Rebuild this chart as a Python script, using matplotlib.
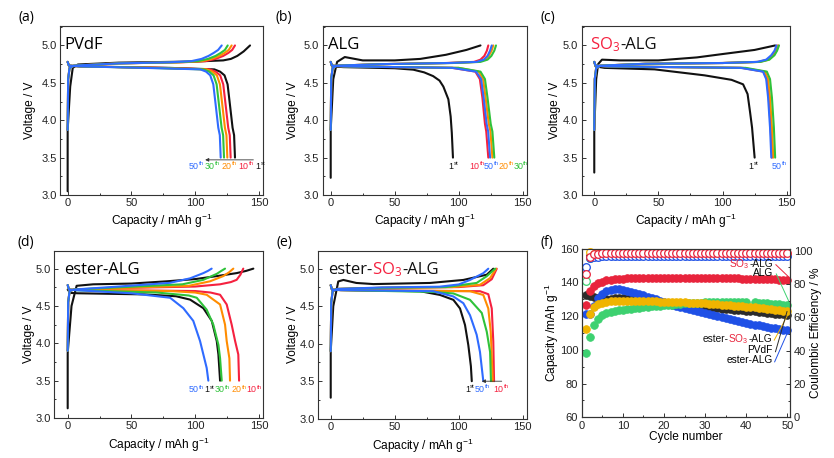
import matplotlib
matplotlib.use('Agg')
import matplotlib.pyplot as plt
from matplotlib import transforms
from matplotlib.ticker import MultipleLocator
import numpy as np

plt.rcParams['font.family'] = 'Liberation Sans'
plt.rcParams['mathtext.default'] = 'regular'

# ---------------- data (capacity in mAh/g, voltage in V) ----------------
cycle_names = ['1st', '10th', '20th', '30th', '50th']

# (a) PVdF
a_chg_q = [[0, 0, 2, 4, 8, 40, 100, 122, 128, 133, 138, 143],
           [0, 0.4, 1.5, 5, 40, 90, 108, 116, 122, 126, 129, 131.2],
           [0, 0.4, 1.5, 5, 40, 88, 105, 113, 119, 123, 126.3, 128.6],
           [0, 0.4, 1.5, 5, 40, 85, 102, 110, 116, 120, 123.3, 125.5],
           [0, 0.4, 1.5, 5, 40, 80, 97, 105, 110.5, 114.5, 118, 120.8]]
a_chg_v1 = [3.05, 3.87, 4.45, 4.70, 4.745, 4.77, 4.785, 4.80, 4.82, 4.86, 4.92, 5.0]
a_chg_vn = [3.87, 4.55, 4.70, 4.73, 4.76, 4.775, 4.79, 4.82, 4.86, 4.90, 4.94, 5.0]
a_dis_q = [[0, 1, 10, 80, 115, 119.5, 123, 125.4, 127.5, 129.3, 130.5, 131.2],
           [0, 1, 10, 75, 111.5, 116, 119.6, 122, 124.1, 125.9, 127.1, 127.8],
           [0, 1, 10, 70, 109, 113.5, 117, 119.4, 121.5, 123.3, 124.5, 125.2],
           [0, 1, 10, 65, 106.5, 111, 114.4, 116.8, 118.9, 120.7, 121.9, 122.6],
           [0, 1, 10, 60, 104, 108.5, 111.8, 114.2, 116.3, 118.1, 119.3, 120]]
a_dis_v = [4.78, 4.73, 4.72, 4.70, 4.68, 4.65, 4.60, 4.48, 4.17, 3.90, 3.80, 3.50]

# (b) ALG
b_chg_q = [[0, 0, 2, 5, 11, 25, 50, 70, 90, 106, 117],
           [0, 0.4, 1.5, 5, 40, 90, 112, 117, 120, 122, 123.1],
           [0, 0.4, 1.5, 5, 40, 93, 115, 120.5, 123.5, 125.7, 127],
           [0, 0.4, 1.5, 5, 40, 95, 117, 122.5, 125.5, 127.8, 129.1],
           [0, 0.4, 1.5, 5, 40, 92, 114, 119.5, 122.5, 124.5, 125.8]]
b_chg_v1 = [3.23, 3.87, 4.55, 4.78, 4.845, 4.80, 4.80, 4.82, 4.875, 4.94, 5.0]
b_chg_vn = [3.87, 4.55, 4.70, 4.73, 4.75, 4.765, 4.78, 4.81, 4.86, 4.93, 5.0]
b_dis1_q = [0, 1, 10, 50, 64.5, 73, 80, 85, 88, 91.9, 93.7, 94.6, 95.5]
b_dis1_v = [4.78, 4.72, 4.71, 4.695, 4.676, 4.64, 4.59, 4.53, 4.45, 4.28, 4.05, 3.83, 3.50]
b_dis_q = [[0, 1, 10, 95, 113, 116.5, 118.5, 120.5, 121.5, 123.1],
           [0, 1, 10, 100, 115.5, 119, 121, 123.5, 124.8, 126.3],
           [0, 1, 10, 100, 117, 120.5, 122.5, 125, 126.3, 127.8],
           [0, 1, 10, 95, 113.5, 117.5, 119.5, 121.8, 123, 124.5]]
b_dis_v = [4.78, 4.73, 4.72, 4.70, 4.65, 4.55, 4.30, 3.95, 3.85, 3.50]

# (c) SO3-ALG
c_chg_q = [[0, 0, 1.5, 3, 6, 20, 50, 80, 100, 125, 141],
           [0, 0.4, 1.5, 5, 40, 100, 128, 135, 139, 141, 142.5],
           [0, 0.4, 1.5, 5, 40, 100, 129, 136, 140, 142, 143.5],
           [0, 0.4, 1.5, 5, 40, 100, 129.5, 136.5, 140.5, 142.5, 144],
           [0, 0.4, 1.5, 5, 40, 100, 127, 134, 138, 140.5, 142]]
c_chg_v1 = [3.30, 3.87, 4.55, 4.75, 4.81, 4.80, 4.80, 4.84, 4.885, 4.94, 5.0]
c_chg_vn = [3.87, 4.55, 4.70, 4.73, 4.755, 4.765, 4.78, 4.81, 4.87, 4.93, 5.0]
c_dis1_q = [0, 1, 8, 47, 86, 107, 116, 119.5, 121.5, 123, 125]
c_dis1_v = [4.78, 4.72, 4.70, 4.68, 4.60, 4.54, 4.48, 4.35, 4.10, 3.90, 3.50]
c_dis_q = [[0, 1, 10, 115, 132, 134.5, 136, 137.5, 138.5],
           [0, 1, 10, 116, 133, 135.5, 137, 138.5, 139.5],
           [0, 1, 10, 118, 134.5, 137, 138.5, 140, 141],
           [0, 1, 10, 114, 131.5, 134, 135.5, 137, 138]]
c_dis_v = [4.78, 4.73, 4.72, 4.70, 4.65, 4.55, 4.30, 3.90, 3.50]

# (d) ester-ALG
d_chg_q = [[0, 0, 3, 7, 20, 50, 77.6, 100, 117, 132.5, 140, 145.6],
           [0, 0.4, 1.5, 5, 40, 100, 119.5, 128, 132.5, 135.5, 137.7],
           [0, 0.4, 1.5, 5, 40, 95, 111.6, 122, 126.5, 129.9],
           [0, 0.4, 1.5, 5, 40, 90, 106.4, 116.9, 120.5, 123.4],
           [0, 0.4, 1.5, 5, 40, 80.3, 96, 106.4, 110, 112.9]]
d_chg_v = [[3.13, 3.87, 4.5, 4.77, 4.79, 4.80, 4.83, 4.86, 4.90, 4.94, 4.97, 5.0],
           [3.9, 4.55, 4.70, 4.72, 4.74, 4.76, 4.79, 4.82, 4.85, 4.92, 5.0],
           [3.9, 4.55, 4.70, 4.72, 4.74, 4.77, 4.83, 4.90, 4.95, 5.0],
           [3.9, 4.55, 4.70, 4.72, 4.75, 4.79, 4.85, 4.93, 4.97, 5.0],
           [3.9, 4.55, 4.70, 4.72, 4.76, 4.81, 4.87, 4.94, 4.97, 5.0]]
d_dis_q = [[0, 2, 8, 60, 85, 96, 106.4, 113, 116.9, 118.2, 119.5],
           [0, 1, 8, 100, 112, 119.5, 124.7, 128.6, 131.3, 133.8, 134.4],
           [0, 1, 8, 80, 100, 109, 119.5, 123.4, 124.7, 126.8, 127.3],
           [0, 1, 8, 70, 95, 101.2, 109, 114.2, 118.2, 119.5, 120.8],
           [0, 1, 8, 50, 80.3, 90.7, 98.5, 103.8, 106.4, 109, 110.3]]
d_dis_v = [[4.72, 4.675, 4.67, 4.655, 4.63, 4.585, 4.47, 4.30, 4.03, 3.85, 3.50],
           [4.78, 4.72, 4.715, 4.70, 4.68, 4.65, 4.52, 4.25, 4.03, 3.85, 3.50],
           [4.78, 4.72, 4.715, 4.70, 4.68, 4.65, 4.52, 4.25, 4.03, 3.80, 3.50],
           [4.78, 4.72, 4.71, 4.68, 4.64, 4.61, 4.45, 4.25, 3.98, 3.80, 3.50],
           [4.78, 4.72, 4.71, 4.67, 4.61, 4.47, 4.30, 4.03, 3.85, 3.67, 3.50]]

# (e) ester-SO3-ALG
e_chg_q = [[0, 0, 2, 5.9, 9.9, 20, 33.3, 77.6, 103.6, 121.9, 127],
           [0, 0.4, 1.5, 5, 40, 100, 119.2, 125.8, 129.7],
           [0, 0.4, 1.5, 5, 40, 95, 116.6, 124.5, 129.1],
           [0, 0.4, 1.5, 5, 40, 90, 114, 121.9, 128.4],
           [0, 0.4, 1.5, 5, 40, 85, 100, 108.8, 119.2, 123.1]]
e_chg_v = [[3.28, 3.9, 4.5, 4.83, 4.85, 4.81, 4.795, 4.81, 4.85, 4.92, 5.0],
           [3.9, 4.55, 4.70, 4.73, 4.745, 4.755, 4.78, 4.86, 5.0],
           [3.9, 4.55, 4.70, 4.73, 4.745, 4.755, 4.785, 4.875, 5.0],
           [3.9, 4.55, 4.70, 4.73, 4.745, 4.755, 4.81, 4.90, 5.0],
           [3.9, 4.55, 4.70, 4.73, 4.75, 4.76, 4.79, 4.85, 4.94, 5.0]]
e_dis_q = [[0, 1, 8, 69.8, 85.4, 95.8, 101, 104.9, 107.5, 109.5, 110.2],
           [0, 1, 8, 116.6, 123.1, 125.8, 127, 127.6],
           [0, 1, 8, 108.8, 119.2, 123.1, 125, 126.6],
           [0, 1, 8, 80, 95.8, 108.8, 118, 121.9, 124.5, 125.2],
           [0, 1, 8, 80.2, 95.8, 103.6, 108.8, 114, 116.6, 119.2]]
e_dis_v = [[4.78, 4.72, 4.715, 4.70, 4.65, 4.585, 4.47, 4.25, 3.98, 3.70, 3.50],
           [4.78, 4.72, 4.715, 4.70, 4.66, 4.47, 4.03, 3.50],
           [4.78, 4.72, 4.715, 4.70, 4.65, 4.47, 4.16, 3.50],
           [4.78, 4.72, 4.715, 4.69, 4.67, 4.585, 4.41, 4.16, 3.89, 3.50],
           [4.78, 4.72, 4.715, 4.70, 4.63, 4.54, 4.38, 4.12, 3.89, 3.50]]

# (f) cycling: discharge capacity (mAh/g) and coulombic efficiency (%)
cycle_no = list(range(1, 51))
nan = np.nan
cap_so3 = [126.5, 135.0, 138.0, 139.6, 140.5, 141.2, 141.6, 142.0, 142.2, 142.3,
           142.4, 142.5, 142.5, 142.6, 142.6, 142.6, 142.6, 142.7, 142.7, 142.7,
           142.7, 142.7, 142.7, 142.7, 142.7, 142.7, 142.6, 142.6, 142.6, 142.6,
           142.6, 142.6, 142.5, 142.5, 142.5, 142.4, 142.4, 142.4, 142.3, 142.3,
           142.2, 142.2, 142.1, 142.0, 142.0, 141.9, 141.8, 141.7, 141.6, 141.5]
cap_alg = [98.0, 107.8, 114.8, 118.3, 120.5, 121.8, 122.6, 123.2, 123.6, 123.9,
           124.2, 124.5, 124.8, 125.1, 125.4, 125.7, 125.9, 126.1, 126.3, 126.5,
           126.7, 126.9, 127.1, 127.3, 127.5, 127.7, 127.8, 127.9, 128.0, 128.1,
           128.2, 128.3, 128.3, 128.4, 128.4, 128.5, 128.5, 128.5, 128.5, 128.4,
           nan, 128.2, 128.0, 127.8, 127.6, 127.4, 127.2, 127.0, 126.8, 126.6]
cap_ester_so3 = [112.5, 121.5, 125.5, 127.0, 128.0, 128.6, 129.0, 129.2, 129.2, 129.1,
                 129.0, 129.0, 128.9, 128.9, 128.8, 128.8, 128.7, 128.7, 128.6, 128.6,
                 128.5, 128.4, 128.3, 128.2, 128.1, 128.0, 127.9, 127.8, 127.7, 127.5,
                 127.4, 127.2, 127.0, 126.8, 126.6, 126.4, 126.2, 126.0, 125.8, 125.6,
                 125.4, 125.2, 124.9, 124.6, 124.3, 124.0, 123.7, 123.4, 123.1, 122.8]
cap_pvdf = [132.6, 132.1, 131.4, 130.6, 130.0, 129.9, 130.4, 130.7, 130.8, 130.7,
            130.5, 130.2, 129.9, 129.5, 129.1, 128.8, 128.5, 128.2, 127.9, 127.6,
            127.3, 127.0, 126.8, 126.5, 126.3, 126.1, 125.9, 125.7, 125.5, 125.3,
            125.1, 124.9, 124.7, 124.5, 124.3, 124.1, 123.9, 123.7, 123.5, 123.3,
            123.0, 122.8, 122.5, 122.3, 122.0, 121.8, 121.5, 121.2, 121.0, 120.7]
cap_ester = [121.3, 121.5, 126.0, 131.0, 133.4, 134.8, 135.6, 136.0, 136.0, 135.7,
             135.2, 134.6, 133.9, 133.1, 132.3, 131.5, 130.7, 129.9, 129.1, 128.3,
             127.6, 126.9, 126.2, 125.6, 125.0, 124.4, 123.8, 123.2, 122.6, 122.0,
             121.4, 120.8, 120.2, 119.6, 119.0, 118.4, 117.8, 117.2, 116.6, 116.0,
             115.5, 115.0, 114.5, 114.0, 113.6, 113.2, 112.8, 112.4, 112.0, 111.6]
ce_so3 = [86.0, 96.4, 97.8, 98.2, 98.4, 98.5, 98.5, 98.6, 98.6, 98.6,
          98.6, 98.6, 98.6, 98.6, 98.6, 98.6, 98.6, 98.6, 98.6, 98.6,
          98.6, 98.6, 98.6, 98.6, 98.6, 98.6, 98.6, 98.6, 98.6, 98.6,
          98.6, 98.6, 98.6, 98.6, 98.6, 98.6, 98.6, 98.6, 98.6, 98.6,
          98.6, 98.6, 98.6, 98.6, 98.6, 98.6, 98.6, 98.6, 98.6, 98.6]
ce_alg = [82.0, 95.5, 96.8, 97.1, 97.2, 97.2, 97.3, 97.3, 97.3, 97.3,
          97.3, 97.3, 97.3, 97.3, 97.3, 97.3, 97.3, 97.3, 97.3, 97.3,
          97.3, 97.3, 97.3, 97.3, 97.3, 97.3, 97.3, 97.3, 97.3, 97.3,
          97.3, 97.3, 97.3, 97.3, 97.3, 97.3, 97.3, 97.3, 97.3, 97.3,
          nan, 97.3, 97.3, 97.3, 97.3, 97.3, 97.3, 97.3, 97.3, 97.3]
ce_ester_so3 = [nan, 99.4, 98.2, 97.9, 97.8, 97.8, 97.8, 97.8, 97.8, 97.8,
                97.8, 97.8, 97.8, 97.8, 97.8, 97.8, 97.8, 97.8, 97.8, 97.8,
                97.8, 97.8, 97.8, 97.8, 97.8, 97.8, 97.8, 97.8, 97.8, 97.8,
                97.8, 97.8, 97.8, 97.8, 97.8, 97.8, 97.8, 97.8, 97.8, 97.8,
                97.8, 97.8, 97.8, 97.8, 97.8, 97.8, 97.8, 97.8, 97.8, 97.8]
ce_pvdf = [nan, 96.8, 97.2, 97.3, 97.4, 97.4, 97.4, 97.4, 97.4, 97.4,
           97.4, 97.4, 97.4, 97.4, 97.4, 97.4, 97.4, 97.4, 97.4, 97.4,
           97.4, 97.4, 97.4, 97.4, 97.4, 97.4, 97.4, 97.4, 97.4, 97.4,
           97.4, 97.4, 97.4, 97.4, 97.4, 97.4, 97.4, 97.4, 97.4, 97.4,
           97.4, 97.4, 97.4, 97.4, 97.4, 97.4, 97.4, 97.4, 97.4, 97.4]
ce_ester = [90.5, 95.8, 96.3, 96.5, 96.6, 96.6, 96.6, 96.6, 96.6, 96.6,
            96.6, 96.6, 96.6, 96.6, 96.6, 96.6, 96.6, 96.6, 96.6, 96.6,
            96.6, 96.6, 96.6, 96.6, 96.6, 96.6, 96.6, 96.6, 96.6, 96.6,
            96.6, 96.6, 96.6, 96.6, 96.6, 96.6, 96.6, 96.6, 96.6, 96.6,
            96.6, 96.6, 96.6, 96.6, 96.6, 96.6, 96.6, 96.6, 96.6, 96.6]

# ---------------- style ----------------
BLACK, RED, ORANGE, GREEN, BLUE = '#111111', '#F5213F', '#FF8C00', '#2FC23A', '#2F6BFF'
cyc_colors = [BLACK, RED, ORANGE, GREEN, BLUE]
F_RED, F_GREEN, F_YEL, F_BLK, F_BLUE = '#E8243C', '#3DD170', '#F0B400', '#2B2B2B', '#1F50E6'
FRAME = '#333333'
TITLE_FONT = 'Open Sans'
TICK_FS, LABEL_FS = 8, 8.6

W, H = 834, 458
fig = plt.figure(figsize=(W / 100, H / 100), dpi=100)
renderer = fig.canvas.get_renderer()


def add_ax(l, t, r, b):
    return fig.add_axes([l / W, 1 - b / H, (r - l) / W, (b - t) / H])


def style(ax):
    for s in ax.spines.values():
        s.set_color(FRAME)
        s.set_linewidth(0.8)
    ax.tick_params(which='both', direction='in', colors=FRAME, labelsize=TICK_FS, width=0.7,
                   labelcolor='#222222')
    ax.tick_params(which='major', length=3, pad=2.5)
    ax.tick_params(which='minor', length=1.6)


def multicolor(ax, x, y, parts, transform, ha='left', **kw):
    # consecutive pieces of differently coloured text on one baseline
    tr = transform
    texts = []
    total = 0
    for s, c in parts:
        t = ax.text(x, y, s, color=c, transform=tr, ha='left', va='baseline', **kw)
        w = t.get_window_extent(renderer).width
        texts.append(t)
        total += w
        tr = transforms.offset_copy(tr, x=w, units='dots')
    if ha == 'right':
        for t in texts:
            t.set_transform(transforms.offset_copy(t.get_transform(), x=-total, units='dots'))


def voltage_axes(ax, xlim, ylim, ylab_x, xlab_y):
    style(ax)
    ax.set_xlim(*xlim)
    ax.set_ylim(*ylim)
    ax.xaxis.set_major_locator(MultipleLocator(50))
    ax.xaxis.set_minor_locator(MultipleLocator(25))
    ax.yaxis.set_minor_locator(MultipleLocator(0.25))
    ax.set_yticks([3.0, 3.5, 4.0, 4.5, 5.0])
    ax.set_yticklabels(['3.0', '3.5', '4.0', '4.5', '5.0'])
    ax.set_xlabel('Capacity / mAh g$^{-1}$', fontsize=LABEL_FS)
    ax.set_ylabel('Voltage / V', fontsize=LABEL_FS)
    ax.yaxis.set_label_coords(ylab_x, 0.5)
    ax.xaxis.set_label_coords(0.5, xlab_y)


def draw(ax, qs, vs, color):
    ax.plot(qs, vs, color=color, lw=1.5, solid_joinstyle='round', solid_capstyle='round')


def cycle_labels(ax, xs, names, colors, y):
    for x, n, c in zip(xs, names, colors):
        t = ax.text(x, y, n[:-2], color=c, fontsize=6.4, va='baseline', clip_on=False)
        w = t.get_window_extent(renderer).width
        tr = transforms.offset_copy(ax.transData, x=w + 0.2, y=3.4, units='dots')
        ax.text(x, y, n[-2:], color=c, fontsize=4.3, va='baseline', transform=tr, clip_on=False)


def arrow(ax, x0, x1, y):
    ax.annotate('', xy=(x1, y), xytext=(x0, y),
                arrowprops=dict(arrowstyle='-|>', lw=0.6, color='#333333',
                                mutation_scale=5, shrinkA=0, shrinkB=0))


# ---- (a) PVdF
ax = add_ax(60, 26, 263.3, 195)
voltage_axes(ax, (-6, 153.4), (3.0, 5.26), -0.12, -0.099)
for i in range(5):
    draw(ax, a_chg_q[i], a_chg_v1 if i == 0 else a_chg_vn, cyc_colors[i])
    draw(ax, a_dis_q[i], a_dis_v, cyc_colors[i])
cycle_labels(ax, [94.6, 107.7, 120.8, 133.8, 147],
             ['50th', '30th', '20th', '10th', '1st'], [BLUE, GREEN, ORANGE, RED, BLACK], 3.35)
arrow(ax, 145.6, 107.8, 3.47)
ax.text(0.02, 0.862, 'PVdF', transform=ax.transAxes, fontsize=12, family=TITLE_FONT, va='baseline')

# ---- (b) ALG
ax = add_ax(322.7, 26, 526.7, 195)
voltage_axes(ax, (-6.25, 153.1), (3.0, 5.26), -0.117, -0.099)
draw(ax, b_chg_q[0], b_chg_v1, BLACK)
draw(ax, b_dis1_q, b_dis1_v, BLACK)
for i in range(1, 5):
    draw(ax, b_chg_q[i], b_chg_vn, cyc_colors[i])
    draw(ax, b_dis_q[i - 1], b_dis_v, cyc_colors[i])
cycle_labels(ax, [91.9, 108.2, 119.8, 131.2, 142.5],
             ['1st', '10th', '50th', '20th', '30th'], [BLACK, RED, BLUE, ORANGE, GREEN], 3.35)
ax.text(0.025, 0.862, 'ALG', transform=ax.transAxes, fontsize=12, family=TITLE_FONT, va='baseline')

# ---- (c) SO3-ALG
ax = add_ax(581.7, 26, 790.3, 195)
voltage_axes(ax, (-9.8, 152.8), (3.0, 5.26), -0.1, -0.099)
draw(ax, c_chg_q[0], c_chg_v1, BLACK)
draw(ax, c_dis1_q, c_dis1_v, BLACK)
for i in range(1, 5):
    draw(ax, c_chg_q[i], c_chg_vn, cyc_colors[i])
    draw(ax, c_dis_q[i - 1], c_dis_v, cyc_colors[i])
cycle_labels(ax, [120, 138.3], ['1st', '50th'], [BLACK, BLUE], 3.35)
multicolor(ax, 0.04, 0.862, [('SO$_3$', RED), ('-ALG', BLACK)], ax.transAxes,
           fontsize=12, family=TITLE_FONT)

# ---- (d) ester-ALG
ax = add_ax(54.3, 250.7, 263.3, 418)
voltage_axes(ax, (-10.5, 153.4), (3.0, 5.24), -0.09, -0.108)
for i in range(5):
    draw(ax, d_chg_q[i], d_chg_v[i], cyc_colors[i])
    draw(ax, d_dis_q[i], d_dis_v[i], cyc_colors[i])
cycle_labels(ax, [94.6, 107, 115.5, 128.6, 140.4],
             ['50th', '1st', '30th', '20th', '10th'], [BLUE, BLACK, GREEN, ORANGE, RED], 3.345)
ax.text(0.048, 0.862, 'ester-ALG', transform=ax.transAxes, fontsize=12, family=TITLE_FONT,
        va='baseline')

# ---- (e) ester-SO3-ALG
ax = add_ax(318.3, 250.7, 526.7, 418.7)
voltage_axes(ax, (-9.7, 153.1), (3.0, 5.24), -0.094, -0.108)
for i in range(5):
    draw(ax, e_chg_q[i], e_chg_v[i], cyc_colors[i])
    draw(ax, e_dis_q[i], e_dis_v[i], cyc_colors[i])
cycle_labels(ax, [105, 112.7, 127], ['1st', '50th', '10th'], [BLACK, BLUE, RED], 3.36)
arrow(ax, 133.6, 118, 3.50)
multicolor(ax, 0.046, 0.862, [('ester-', BLACK), ('SO$_3$', RED), ('-ALG', BLACK)],
           ax.transAxes, fontsize=12, family=TITLE_FONT)

# ---- (f) cycling
ax = add_ax(581.7, 248.7, 790.3, 417.3)
style(ax)
ax.tick_params(right=False)
ax.set_xlim(0, 50.7)
ax.set_ylim(60, 160)
ax.xaxis.set_major_locator(MultipleLocator(10))
ax.xaxis.set_minor_locator(MultipleLocator(5))
ax.yaxis.set_major_locator(MultipleLocator(20))
ax.yaxis.set_minor_locator(MultipleLocator(10))
ax.set_xlabel('Cycle number', fontsize=LABEL_FS)
ax.set_ylabel('Capacity /mAh g$^{-1}$', fontsize=LABEL_FS)
ax.xaxis.set_label_coords(0.5, -0.081)
ax.yaxis.set_label_coords(-0.1, 0.5)

ax2 = ax.twinx()
style(ax2)
ax2.set_ylim(0, 101.2)
ax2.yaxis.set_major_locator(MultipleLocator(20))
ax2.yaxis.set_minor_locator(MultipleLocator(10))
ax2.set_ylabel('Coulombic Efficiency / %', fontsize=LABEL_FS)
ax2.yaxis.set_label_coords(1.095, 0.5)

cap_series = [(cap_pvdf, F_BLK), (cap_ester, F_BLUE), (cap_alg, F_GREEN),
              (cap_ester_so3, F_YEL), (cap_so3, F_RED)]
for vals, c in cap_series:
    ax.plot(cycle_no, vals, 'o', ms=5.5, mfc=c, mec=c, mew=0.6, clip_on=False)
ce_series = [(ce_pvdf, F_BLK), (ce_alg, F_GREEN), (ce_ester_so3, F_YEL),
             (ce_ester, F_BLUE), (ce_so3, F_RED)]
for vals, c in ce_series:
    ax2.plot(cycle_no, vals, 'o', ms=5.5, mfc='white', mec=c, mew=0.9, clip_on=False)

# labels with leader lines (data coordinates of the capacity axis)
lab_fs = 7.3
multicolor(ax2, 46.5, 149.0, [('SO$_3$', F_RED), ('-ALG', BLACK)], ax.transData, ha='right',
           fontsize=lab_fs)
ax2.text(46.5, 143.8, 'ALG', transform=ax.transData, ha='right', va='baseline', fontsize=lab_fs)
multicolor(ax2, 46.3, 104.7, [('ester-', BLACK), ('SO$_3$', F_RED), ('-ALG', BLACK)],
           ax.transData, ha='right', fontsize=lab_fs)
ax2.text(46.3, 98.4, 'PVdF', transform=ax.transData, ha='right', va='baseline', fontsize=lab_fs)
ax2.text(46.4, 92.3, 'ester-ALG', transform=ax.transData, ha='right', va='baseline',
         fontsize=lab_fs)
leaders = [((47.2, 150.5), (50.2, 143.5), F_RED),
           ((47.3, 145.0), (50.3, 129.0), F_GREEN),
           ((46.8, 105.8), (50.3, 121.7), F_YEL),
           ((47.1, 98.9), (49.9, 122.7), F_BLK),
           ((46.9, 92.9), (50.3, 111.8), F_BLUE)]
for (x0, y0), (x1, y1), c in leaders:
    ax2.plot([x0, x1], [y0, y1], color=c, lw=0.7, transform=ax.transData, clip_on=False)

# panel letters
for s, (x, y) in zip(['(a)', '(b)', '(c)', '(d)', '(e)', '(f)'],
                     [(26, 18), (284, 18), (548, 18), (26, 243), (284, 243), (547, 243)]):
    fig.text(x / W, 1 - y / H, s, fontsize=10, family=TITLE_FONT, ha='center', va='center')

fig.savefig('out.png', dpi=100)
